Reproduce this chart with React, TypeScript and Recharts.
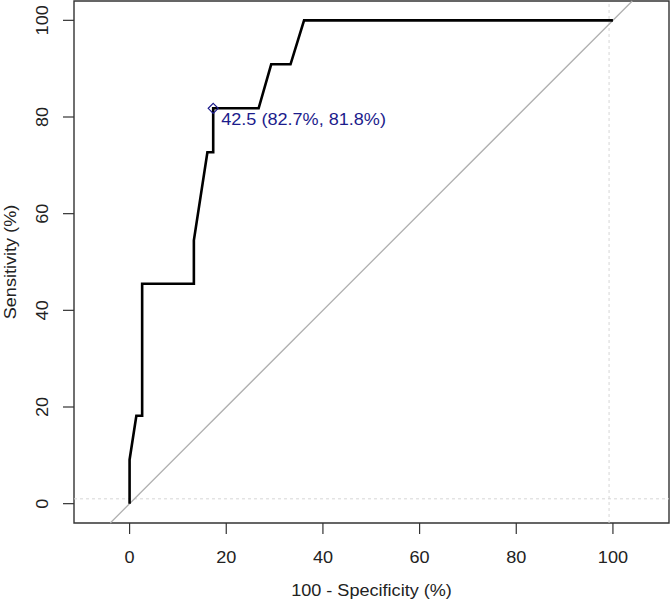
import React from "react";
import {
  ComposedChart,
  Line,
  XAxis,
  YAxis,
  ReferenceLine,
  ReferenceArea,
  ReferenceDot,
} from "recharts";

// ROC curve points: 100 - specificity (%) and sensitivity (%)
const fpr = [0, 0, 1.4, 2.6, 2.6, 13.3, 13.3, 16.1, 17.3, 17.3, 26.7, 29.3, 33.3, 36.1, 100];
const sensitivity = [0, 9.1, 18.2, 18.2, 45.5, 45.5, 54.5, 72.7, 72.7, 81.8, 81.8, 90.9, 90.9, 100, 100];

// best threshold
const thresholdValue = 42.5;
const thresholdSpecificity = 82.7;
const thresholdSensitivity = 81.8;

const xTicks = [0, 20, 40, 60, 80, 100];
const yTicks = [0, 20, 40, 60, 80, 100];

const xDomain = [-11.5, 111.6];
const yDomain = [-4, 104];
const diagonal = [-4, 104];
const gridX = 99.2;
const gridY = 1;

const rocData = fpr.map((x, i) => ({ x, y: sensitivity[i] }));

const FONT = "'Liberation Sans', Arial, sans-serif";
const STRETCH = 1.13;
const TEXT_COL = "#222";
const THRES_COL = "#1c1c8c";

const XTick = (props: any) => {
  const { x, y, payload } = props;
  return (
    <text
      transform={`translate(${x},${y + 29}) scale(${STRETCH},1)`}
      textAnchor="middle"
      fontSize={16}
      fontFamily={FONT}
      fill={TEXT_COL}
    >
      {payload.value}
    </text>
  );
};

const YTick = (props: any) => {
  const { x, y, payload } = props;
  return (
    <text
      transform={`translate(${x - 15},${y}) rotate(-90) scale(${STRETCH},1)`}
      textAnchor="middle"
      fontSize={16}
      fontFamily={FONT}
      fill={TEXT_COL}
    >
      {payload.value}
    </text>
  );
};

const XTitle = (props: any) => {
  const { viewBox } = props;
  const cx = viewBox.x + viewBox.width / 2;
  return (
    <text
      transform={`translate(${cx},${viewBox.y + viewBox.height - 5}) scale(${STRETCH},1)`}
      textAnchor="middle"
      fontSize={16}
      fontFamily={FONT}
      fill={TEXT_COL}
    >
      100 - Specificity (%)
    </text>
  );
};

const YTitle = (props: any) => {
  const { viewBox } = props;
  const cy = viewBox.y + viewBox.height / 2;
  return (
    <text
      transform={`translate(16,${cy}) rotate(-90) scale(${STRETCH},1)`}
      textAnchor="middle"
      fontSize={16}
      fontFamily={FONT}
      fill={TEXT_COL}
    >
      Sensitivity (%)
    </text>
  );
};

const ThresholdMark = (props: any) => {
  const { cx, cy } = props;
  const s = 5;
  return (
    <g>
      <polygon
        points={`${cx},${cy - s} ${cx + s},${cy} ${cx},${cy + s} ${cx - s},${cy}`}
        fill="none"
        stroke={THRES_COL}
        strokeWidth={1.2}
      />
      <text
        transform={`translate(${cx + 8},${cy + 17}) scale(${STRETCH},1)`}
        fontSize={16}
        fontFamily={FONT}
        fill={THRES_COL}
      >
        {`${thresholdValue} (${thresholdSpecificity}%, ${thresholdSensitivity}%)`}
      </text>
    </g>
  );
};

export default function App() {
  return (
    <div style={{ position: "absolute", left: 0, top: 0, background: "#fff" }}>
      <ComposedChart
        width={671}
        height={601}
        data={rocData}
        margin={{ top: 1, right: 2, bottom: 0, left: 0 }}
      >
        <XAxis
          type="number"
          dataKey="x"
          domain={xDomain}
          ticks={xTicks}
          interval={0}
          allowDataOverflow
          axisLine={false}
          tickSize={11}
          tickMargin={0}
          tickLine={{ stroke: "#333", strokeWidth: 1.2 }}
          tick={XTick}
          height={78}
          label={{ content: XTitle }}
        />
        <YAxis
          type="number"
          dataKey="y"
          domain={yDomain}
          ticks={yTicks}
          interval={0}
          allowDataOverflow
          axisLine={false}
          tickSize={11}
          tickMargin={0}
          tickLine={{ stroke: "#333", strokeWidth: 1.2 }}
          tick={YTick}
          width={74}
          label={{ content: YTitle }}
        />
        <ReferenceLine
          y={gridY}
          stroke="#d6d6d6"
          strokeDasharray="3 3"
          strokeWidth={1}
        />
        <ReferenceLine
          x={gridX}
          stroke="#d6d6d6"
          strokeDasharray="3 3"
          strokeWidth={1}
        />
        <ReferenceLine
          segment={[
            { x: diagonal[0], y: diagonal[0] },
            { x: diagonal[1], y: diagonal[1] },
          ]}
          stroke="#b0b0b0"
          strokeWidth={1.3}
        />
        <ReferenceArea
          x1={xDomain[0]}
          x2={xDomain[1]}
          y1={yDomain[0]}
          y2={yDomain[1]}
          fill="none"
          stroke="#333"
          strokeWidth={1.4}
        />
        <Line
          type="linear"
          dataKey="y"
          stroke="#000"
          strokeWidth={2.6}
          strokeLinejoin="miter"
          dot={false}
          activeDot={false}
          isAnimationActive={false}
        />
        <ReferenceDot
          x={100 - thresholdSpecificity}
          y={thresholdSensitivity}
          shape={ThresholdMark}
        />
      </ComposedChart>
    </div>
  );
}
